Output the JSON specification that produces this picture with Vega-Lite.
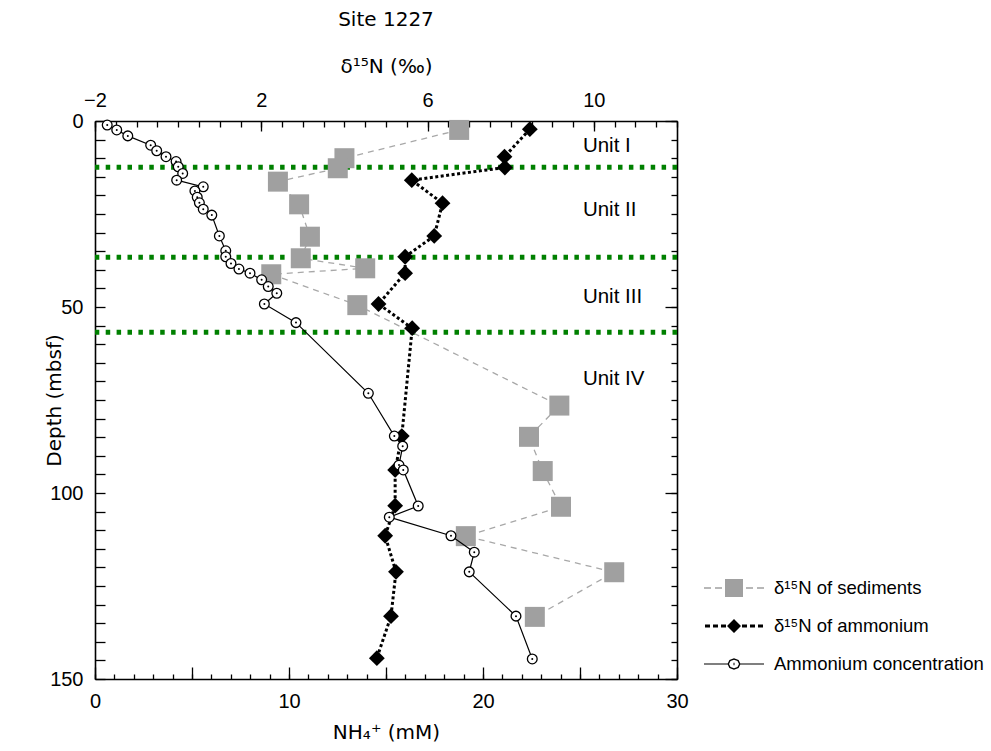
{
  "$schema": "https://vega.github.io/schema/vega-lite/v6.json",
  "width": 582,
  "height": 558,
  "autosize": {"type": "none"},
  "padding": {"left": 95, "top": 121, "right": 314, "bottom": 72},
  "background": "white",
  "title": {"text": "Site 1227", "font": "DejaVu Sans", "fontSize": 20, "fontWeight": "normal", "color": "black", "offset": 26},
  "config": {
    "view": {"stroke": null},
    "axis": {"grid": false, "labelFont": "Liberation Sans", "labelFontSize": 20, "labelColor": "black", "titleFont": "DejaVu Sans", "titleFontSize": 20, "titleFontWeight": "normal", "titleColor": "black", "tickColor": "black", "domainColor": "black", "tickWidth": 1.3, "domainWidth": 1.6, "labelFlush": false, "labelOverlap": false},
    "legend": {"labelFont": "Liberation Sans", "labelFontSize": 18.5, "labelColor": "black", "labelLimit": 400}
  },
  "datasets": {
    "bounds": [{"depth": 12.4}, {"depth": 36.6}, {"depth": 56.8}],
    "units": [
      {"label": "Unit I", "depth": 8.4},
      {"label": "Unit II", "depth": 25.5},
      {"label": "Unit III", "depth": 49.0},
      {"label": "Unit IV", "depth": 71.0}
    ],
    "sed": [
      {"d15N": 6.76, "depth": 2.4}, {"d15N": 4.00, "depth": 10.0}, {"d15N": 3.84, "depth": 12.7},
      {"d15N": 2.40, "depth": 16.3}, {"d15N": 2.91, "depth": 22.4}, {"d15N": 3.17, "depth": 31.1},
      {"d15N": 2.95, "depth": 36.9}, {"d15N": 4.50, "depth": 39.6}, {"d15N": 2.24, "depth": 41.2},
      {"d15N": 4.31, "depth": 49.5}, {"d15N": 9.17, "depth": 76.5}, {"d15N": 8.44, "depth": 84.9},
      {"d15N": 8.77, "depth": 94.1}, {"d15N": 9.21, "depth": 103.7}, {"d15N": 6.92, "depth": 111.6},
      {"d15N": 10.49, "depth": 121.3}, {"d15N": 8.58, "depth": 133.3}
    ],
    "amm": [
      {"d15N": 8.46, "depth": 2.2}, {"d15N": 7.85, "depth": 9.6}, {"d15N": 7.86, "depth": 12.5},
      {"d15N": 5.62, "depth": 15.9}, {"d15N": 6.36, "depth": 22.1}, {"d15N": 6.16, "depth": 30.9},
      {"d15N": 5.46, "depth": 36.5}, {"d15N": 5.46, "depth": 40.9}, {"d15N": 4.82, "depth": 49.2},
      {"d15N": 5.63, "depth": 55.7}, {"d15N": 5.38, "depth": 84.7}, {"d15N": 5.22, "depth": 93.8},
      {"d15N": 5.22, "depth": 103.4}, {"d15N": 4.98, "depth": 111.5}, {"d15N": 5.24, "depth": 121.2},
      {"d15N": 5.12, "depth": 133.1}, {"d15N": 4.78, "depth": 144.4}
    ],
    "conc": [
      {"nh4": 0.63, "depth": 1.1}, {"nh4": 1.12, "depth": 2.4}, {"nh4": 1.69, "depth": 4.0},
      {"nh4": 2.87, "depth": 6.5}, {"nh4": 3.18, "depth": 8.0}, {"nh4": 3.66, "depth": 9.6},
      {"nh4": 4.18, "depth": 10.9}, {"nh4": 4.29, "depth": 12.3}, {"nh4": 4.52, "depth": 14.1},
      {"nh4": 4.21, "depth": 15.9}, {"nh4": 5.58, "depth": 17.7}, {"nh4": 5.15, "depth": 18.8},
      {"nh4": 5.27, "depth": 20.5}, {"nh4": 5.38, "depth": 22.0}, {"nh4": 5.58, "depth": 23.7},
      {"nh4": 6.02, "depth": 25.3}, {"nh4": 6.41, "depth": 30.9}, {"nh4": 6.74, "depth": 34.9},
      {"nh4": 6.74, "depth": 36.5}, {"nh4": 7.01, "depth": 38.3}, {"nh4": 7.42, "depth": 39.8},
      {"nh4": 7.99, "depth": 40.9}, {"nh4": 8.59, "depth": 42.7}, {"nh4": 8.93, "depth": 44.5},
      {"nh4": 9.37, "depth": 46.3}, {"nh4": 8.73, "depth": 49.2}, {"nh4": 10.36, "depth": 54.2},
      {"nh4": 14.09, "depth": 73.2}, {"nh4": 15.43, "depth": 84.7}, {"nh4": 15.86, "depth": 87.4},
      {"nh4": 15.67, "depth": 92.5}, {"nh4": 15.89, "depth": 93.8}, {"nh4": 16.66, "depth": 103.5},
      {"nh4": 15.17, "depth": 106.5}, {"nh4": 18.35, "depth": 111.5}, {"nh4": 19.55, "depth": 115.9},
      {"nh4": 19.29, "depth": 121.2}, {"nh4": 21.70, "depth": 133.1}, {"nh4": 22.54, "depth": 144.6}
    ],
    "legSed": [{"series": "δ¹⁵N of sediments"}],
    "legAmm": [{"series": "δ¹⁵N of ammonium"}],
    "legConc": [{"series": "Ammonium concentration"}]
  },
  "layer": [
    {
      "data": {"name": "bounds"},
      "mark": {"type": "rule", "color": "#008000", "strokeWidth": 5, "strokeDash": [4.5, 6.4]},
      "encoding": {
        "y": {"field": "depth", "type": "quantitative",
          "scale": {"domain": [0, 150], "reverse": true, "nice": false, "zero": false},
          "axis": {"orient": "left", "values": [0,5,10,15,20,25,30,35,40,45,50,55,60,65,70,75,80,85,90,95,100,105,110,115,120,125,130,135,140,145,150],
            "tickSize": -10, "labelPadding": 22, "labelExpr": "datum.value % 50 === 0 ? datum.label : ''",
            "title": "Depth (mbsf)", "titlePadding": -15}}
      }
    },
    {
      "data": {"name": "sed"},
      "mark": {"type": "line", "color": "#a8a8a8", "strokeWidth": 1.3, "strokeDash": [6, 5]},
      "encoding": {
        "x": {"field": "d15N", "type": "quantitative",
          "scale": {"domain": [-2, 12], "nice": false, "zero": false},
          "axis": {"orient": "top", "values": [-2, 2, 6, 10], "tickSize": -10, "labelPadding": 21,
            "title": "δ¹⁵N (‰)", "titlePadding": 14}},
        "y": {"field": "depth", "type": "quantitative",
          "scale": {"domain": [0, 150], "reverse": true, "nice": false, "zero": false},
          "axis": {"orient": "right", "values": [0, 50, 100, 150], "tickSize": -12, "labels": false, "domain": false, "title": null}},
        "order": {"field": "depth", "type": "quantitative"}
      }
    },
    {
      "data": {"name": "sed"},
      "mark": {"type": "point", "shape": "square", "filled": true, "color": "#a0a0a0", "opacity": 1, "size": 400},
      "encoding": {
        "x": {"field": "d15N", "type": "quantitative",
          "scale": {"domain": [-2, 12], "nice": false, "zero": false},
          "axis": {"orient": "top", "values": [-2,-1.5,-1,-0.5,0,0.5,1,1.5,2,2.5,3,3.5,4,4.5,5,5.5,6,6.5,7,7.5,8,8.5,9,9.5,10,10.5,11,11.5,12],
            "tickSize": -6, "labels": false, "domain": false, "title": null}},
        "y": {"field": "depth", "type": "quantitative",
          "scale": {"domain": [0, 150], "reverse": true, "nice": false, "zero": false},
          "axis": {"orient": "right", "values": [0,5,10,15,20,25,30,35,40,45,50,55,60,65,70,75,80,85,90,95,100,105,110,115,120,125,130,135,140,145,150],
            "tickSize": -6, "labels": false, "domain": true, "title": null}}
      }
    },
    {
      "data": {"name": "amm"},
      "mark": {"type": "line", "color": "black", "strokeWidth": 3, "strokeDash": [3, 2.5]},
      "encoding": {
        "x": {"field": "d15N", "type": "quantitative", "scale": {"domain": [-2, 12], "nice": false, "zero": false}, "axis": null},
        "y": {"field": "depth", "type": "quantitative", "scale": {"domain": [0, 150], "reverse": true, "nice": false, "zero": false}, "axis": null},
        "order": {"field": "depth", "type": "quantitative"}
      }
    },
    {
      "data": {"name": "amm"},
      "mark": {"type": "point", "shape": "diamond", "filled": true, "color": "black", "opacity": 1, "size": 250},
      "encoding": {
        "x": {"field": "d15N", "type": "quantitative", "scale": {"domain": [-2, 12], "nice": false, "zero": false}, "axis": null},
        "y": {"field": "depth", "type": "quantitative", "scale": {"domain": [0, 150], "reverse": true, "nice": false, "zero": false}, "axis": null}
      }
    },
    {
      "data": {"name": "conc"},
      "mark": {"type": "line", "color": "black", "strokeWidth": 1.2},
      "encoding": {
        "x": {"field": "nh4", "type": "quantitative",
          "scale": {"domain": [0, 30], "nice": false, "zero": false},
          "axis": {"orient": "bottom", "values": [0, 5, 10, 15, 20, 25, 30], "tickSize": -12, "labelPadding": 24,
            "labelExpr": "datum.value % 10 === 0 ? datum.label : ''", "title": "NH₄⁺ (mM)", "titlePadding": 11}},
        "y": {"field": "depth", "type": "quantitative", "scale": {"domain": [0, 150], "reverse": true, "nice": false, "zero": false}, "axis": null},
        "order": {"field": "depth", "type": "quantitative"}
      }
    },
    {
      "data": {"name": "conc"},
      "mark": {"type": "point", "shape": "circle", "fill": "white", "stroke": "black", "strokeWidth": 1.3, "opacity": 1, "size": 95},
      "encoding": {
        "x": {"field": "nh4", "type": "quantitative",
          "scale": {"domain": [0, 30], "nice": false, "zero": false},
          "axis": {"orient": "bottom", "values": [0,1,2,3,4,5,6,7,8,9,10,11,12,13,14,15,16,17,18,19,20,21,22,23,24,25,26,27,28,29,30],
            "tickSize": -5, "labels": false, "domain": false, "title": null}},
        "y": {"field": "depth", "type": "quantitative", "scale": {"domain": [0, 150], "reverse": true, "nice": false, "zero": false}, "axis": null}
      }
    },
    {
      "data": {"name": "conc"},
      "mark": {"type": "point", "shape": "circle", "filled": true, "color": "black", "opacity": 1, "size": 4},
      "encoding": {
        "x": {"field": "nh4", "type": "quantitative", "scale": {"domain": [0, 30], "nice": false, "zero": false}, "axis": null},
        "y": {"field": "depth", "type": "quantitative", "scale": {"domain": [0, 150], "reverse": true, "nice": false, "zero": false}, "axis": null}
      }
    },
    {
      "data": {"name": "units"},
      "mark": {"type": "text", "align": "left", "baseline": "alphabetic", "font": "Liberation Sans", "fontSize": 20.5, "color": "black"},
      "encoding": {
        "x": {"datum": 25.15, "type": "quantitative", "scale": {"domain": [0, 30], "nice": false, "zero": false}, "axis": null},
        "y": {"field": "depth", "type": "quantitative", "scale": {"domain": [0, 150], "reverse": true, "nice": false, "zero": false}, "axis": null},
        "text": {"field": "label"}
      }
    },
    {
      "data": {"name": "legSed"},
      "mark": {"type": "point", "opacity": 0, "size": 400, "fill": "#a0a0a0", "stroke": "#a0a0a0", "strokeWidth": 0},
      "encoding": {
        "shape": {
          "field": "series", "type": "nominal",
          "scale": {"range": ["M-3,-0.065H-2.3V0.065H-3ZM-1.9,-0.065H-1.2V0.065H-1.9ZM1.2,-0.065H1.9V0.065H1.2ZM2.3,-0.065H3V0.065H2.3ZM-0.9,-0.9H0.9V0.9H-0.9Z"]},
          "legend": {"title": null, "orient": "none", "legendX": 629, "legendY": 457, "padding": 0,
            "symbolSize": 400, "symbolOpacity": 1, "symbolStrokeWidth": 0, "symbolFillColor": "#a0a0a0", "labelOffset": 30}
        }
      }
    },
    {
      "data": {"name": "legAmm"},
      "mark": {"type": "point", "opacity": 0, "size": 400, "fill": "black", "stroke": "black", "strokeWidth": 0},
      "encoding": {
        "shape": {
          "field": "series", "type": "nominal",
          "scale": {"range": ["M-2.9,-0.15H-2.4V0.15H-2.9ZM-2.1,-0.15H-1.6V0.15H-2.1ZM-1.3,-0.15H-0.8V0.15H-1.3ZM0.8,-0.15H1.3V0.15H0.8ZM1.6,-0.15H2.1V0.15H1.6ZM2.4,-0.15H2.9V0.15H2.4ZM-0.7,0L0,-0.7L0.7,0L0,0.7Z"]},
          "legend": {"title": null, "orient": "none", "legendX": 629, "legendY": 495, "padding": 0,
            "symbolSize": 400, "symbolOpacity": 1, "symbolStrokeWidth": 0, "symbolFillColor": "black", "labelOffset": 30}
        }
      }
    },
    {
      "data": {"name": "legConc"},
      "mark": {"type": "point", "opacity": 0, "size": 400, "fill": "black", "stroke": "black", "strokeWidth": 0},
      "encoding": {
        "shape": {
          "field": "series", "type": "nominal",
          "scale": {"range": ["M-3,-0.06H-0.63V0.06H-3ZM0.63,-0.06H3V0.06H0.63ZM0.65,0L0.46,0.41L0,0.58L-0.46,0.41L-0.65,0L-0.46,-0.41L0,-0.58L0.46,-0.41ZM0.5,0L0.35,-0.3L0,-0.43L-0.35,-0.3L-0.5,0L-0.35,0.3L0,0.43L0.35,0.3ZM-0.05,-0.12H0.05V0.12H-0.05Z"]},
          "legend": {"title": null, "orient": "none", "legendX": 629, "legendY": 533, "padding": 0,
            "symbolSize": 400, "symbolOpacity": 1, "symbolStrokeWidth": 0, "symbolFillColor": "black", "labelOffset": 30}
        }
      }
    }
  ],
  "resolve": {
    "scale": {"x": "independent", "shape": "independent"},
    "axis": {"x": "independent", "y": "independent"},
    "legend": {"shape": "independent"}
  }
}
